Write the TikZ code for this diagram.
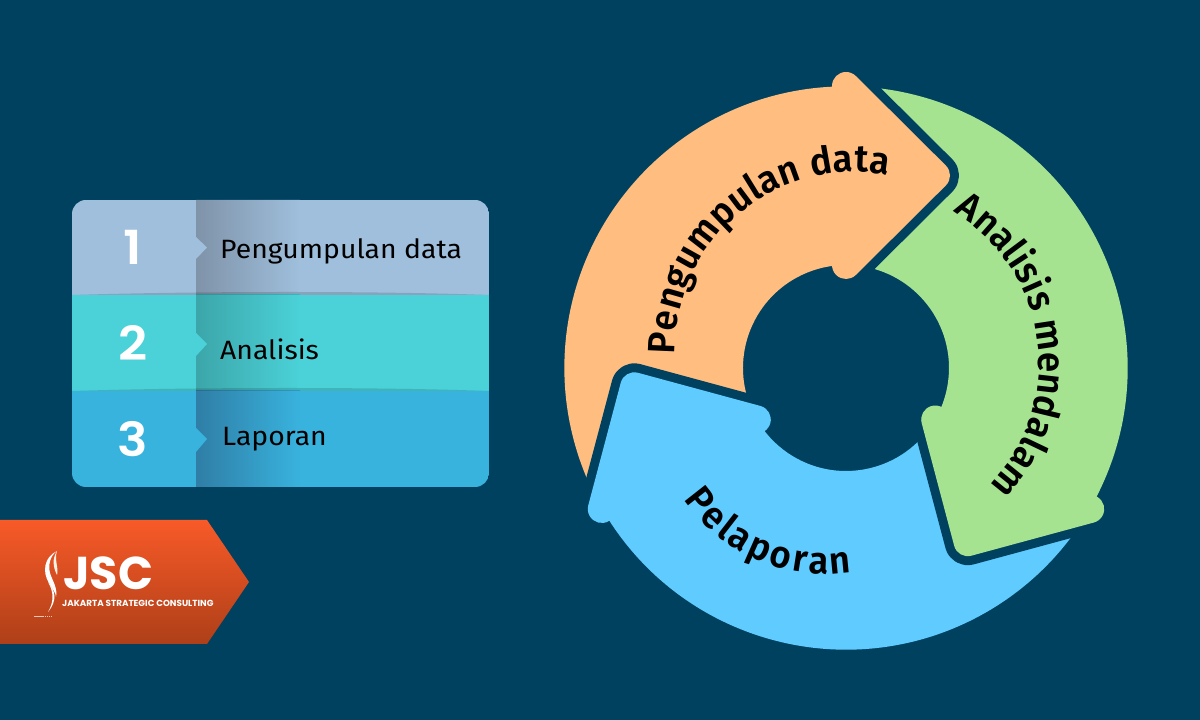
\documentclass[tikz,border=0pt]{standalone}
\usepackage{fontspec}
\setmainfont{Fira Sans}[FakeStretch=1.07]
\newfontfamily\ringfont{Fira Sans SemiBold}[FakeStretch=0.96]
\newfontfamily\numfont{Poppins SemiBold}[FakeStretch=1.08]
\newfontfamily\logofont{Poppins}[BoldFont=Poppins Bold]
\usetikzlibrary{decorations.text}
\definecolor{bgc}{HTML}{00415F}
\definecolor{orangeA}{HTML}{FFBD7F}
\definecolor{greenA}{HTML}{A6E391}
\definecolor{blueA}{HTML}{60CBFF}
\definecolor{rowA}{HTML}{9FBFDC}
\definecolor{rowB}{HTML}{4AD2D8}
\definecolor{rowC}{HTML}{38B3DE}
\definecolor{shA}{HTML}{7F93A9}
\definecolor{shB}{HTML}{3CA6AA}
\definecolor{shC}{HTML}{2F7EA6}
\definecolor{badgeT}{HTML}{F85A28}
\definecolor{badgeB}{HTML}{AE3F18}
\newcommand{\headfront}{(-14,281.65) -- (-14,282) arc[start angle=180,end angle=45,radius=14] -- (99.9,202.4) arc[start angle=45,end angle=-45,radius=14] -- (9.9,93.1) arc[start angle=-45,end angle=-180,radius=14] -- (-14,102.04)}
\newcommand{\halofront}{(-9.9,291.9) arc[start angle=135,end angle=45,radius=14] -- (99.9,202.4) arc[start angle=45,end angle=-45,radius=14] -- (9.9,93.1) arc[start angle=-45,end angle=-135,radius=14]}
\newcommand{\ringbody}{(90:281.65) arc[start angle=90,end angle=205.5,radius=281.65] -- (205.5:103) arc[start angle=205.5,end angle=90,radius=103] -- cycle}
\tikzset{
  halo/.style={draw=bgc,line width=18pt,line join=round},
  numlabel/.style={text=white,font=\numfont\fontsize{47}{47}\selectfont,anchor=base,inner sep=0pt},
  rowlabel/.style={text=black,font=\fontsize{26.5}{30}\selectfont,anchor=base west,inner sep=0pt},
  ringtext/.style={decorate,decoration={text along path,text align={fit to path},text={#1}}}
}
\newcommand{\rf}{\ringfont\fontsize{38}{42}\selectfont}
\begin{document}
\begin{tikzpicture}[x=1pt,y=1pt]
\useasboundingbox (0,0) rectangle (1200,720);
\fill[bgc] (0,0) rectangle (1200,720);
% panel
\begin{scope}
\clip[rounded corners=14pt] (72,233) rectangle (489,520);
\fill[rowA] (72,425) rectangle (489,520);
\fill[rowB] (72,329) rectangle (489,425);
\fill[rowC] (72,233) rectangle (489,329);
\shade[left color=shA,middle color=rowA!50!shA,right color=rowA] (196,425) rectangle (300,520);
\shade[left color=shB,middle color=rowB!50!shB,right color=rowB] (196,329) rectangle (300,425);
\shade[left color=shC,middle color=rowC!50!shC,right color=rowC] (196,233) rectangle (300,329);
\fill[black,opacity=.14] (72,425) .. controls (200,429) and (380,429) .. (489,425) -- cycle;
\fill[black,opacity=.14] (72,329) .. controls (200,333) and (380,333) .. (489,329) -- cycle;
\end{scope}
\fill[rowA] (196,483) -- (207,472.5) -- (196,461) -- cycle;
\fill[rowB] (196,387) -- (207,376) -- (196,364) -- cycle;
\fill[rowC] (196,292) -- (207,281) -- (196,268) -- cycle;
\node[numlabel] (n1) at (133,455) {1};
\node[numlabel] (n2) at (133,359) {2};
\node[numlabel] (n3) at (133,263) {3};
\node[rowlabel] (t1) at (220,461) {Pengumpulan data};
\node[rowlabel] (t2) at (220,360) {Analisis};
\node[rowlabel] (t3) at (222,274) {Laporan};
% badge
\shade[top color=badgeT,bottom color=badgeB] (0,200) -- (207,200) -- (249,138) -- (207,76) -- (0,76) -- cycle;
\node[text=white,anchor=base west,inner sep=0pt,font=\logofont\bfseries\fontsize{46}{46}\selectfont] (jsc) at (63,130) {JSC};
\node[text=white,anchor=base west,inner sep=0pt,font=\logofont\bfseries\fontsize{8.8}{9}\selectfont] (jsl) at (62,113) {JAKARTA STRATEGIC CONSULTING};
\begin{scope}[shift={(0,720)},yscale=-1]
\fill[white] (57,551) .. controls (44,557) and (42,572) .. (49,583) .. controls (53,590) and (56,593) .. (56,597) .. controls (58,588) and (52,580) .. (50,573) .. controls (48,565) and (50,556) .. (57,551) -- cycle;
\fill[white!90!orange] (57,551) .. controls (52,559) and (53,567) .. (57,575) .. controls (59,568) and (54,560) .. (57,551) -- cycle;
\fill[white] (48,582) .. controls (55,590) and (58,600) .. (48,612) .. controls (54,602) and (54,592) .. (48,582) -- cycle;
\draw[white,opacity=.7,line width=1pt,dash pattern=on 1.5pt off .6pt] (34,617) -- (52,617);
\end{scope}
% ring bodies
\begin{scope}[shift={(846,352)}]
\fill[orangeA] \ringbody;
\fill[greenA,rotate=-120] \ringbody;
\fill[blueA,rotate=120] \ringbody;
\foreach \ang/\col in {0/orangeA,-120/greenA,120/blueA}{
  \begin{scope}[rotate=\ang]
  \draw[halo] \halofront;
  \fill[\col] \headfront -- cycle;
  \end{scope}
}
\end{scope}
% curved labels
\path[ringtext={|\rf|Pengumpulan data}] (854,369) ++(181:179) arc[start angle=181,end angle=79,radius=179];
\path[ringtext={|\rf|Analisis mendalam}] (863,357) ++(59:176) arc[start angle=59,end angle=-44,radius=176];
\path[ringtext={|\rf|Pelaporan}] (825,318) ++(214.6:172) arc[start angle=214.6,end angle=279,radius=172];
\end{tikzpicture}
\end{document}
